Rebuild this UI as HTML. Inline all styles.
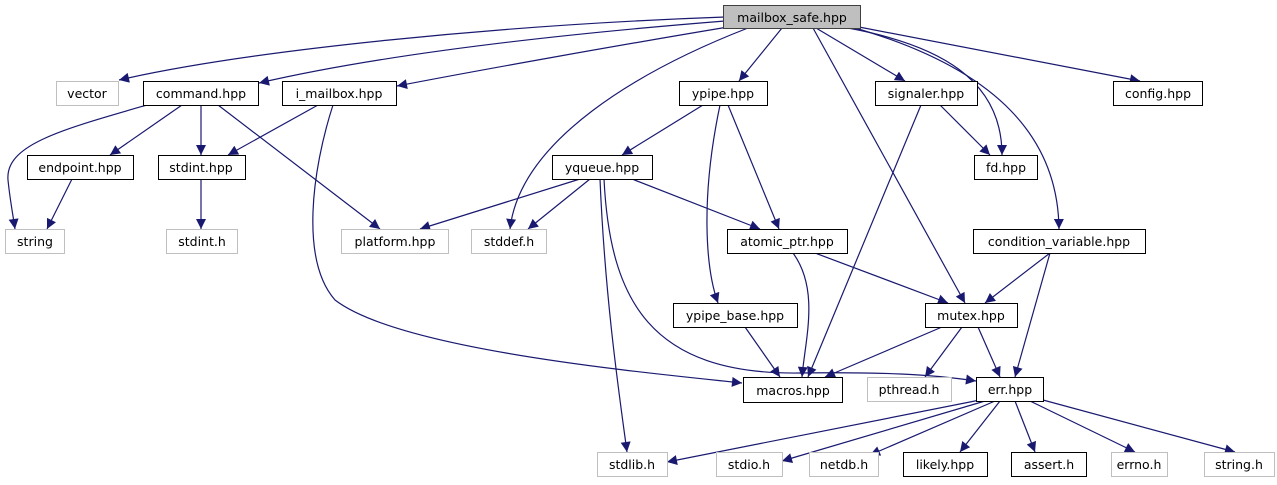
<!DOCTYPE html>
<html><head><meta charset="utf-8"><style>
html,body{margin:0;padding:0;background:#fff;}
svg{display:block;}
text{font-family:"DejaVu Sans","Liberation Sans",sans-serif;font-size:12.5px;fill:#000;}
</style></head><body>
<svg width="1277" height="485" viewBox="0 0 1277 485" xmlns="http://www.w3.org/2000/svg">
<defs>
<marker id="a" viewBox="0 0 10 10" refX="10" refY="5" markerWidth="13" markerHeight="10" markerUnits="userSpaceOnUse" orient="auto">
<path d="M0,0 L10,5 L0,10 z" fill="#191970"/>
</marker>
</defs>
<g fill="none" stroke="#191970" stroke-width="1.2" marker-end="url(#a)">
<path d="M725,17 C500,25 250,50 119,80"/>
<path d="M725,21 C550,35 380,55 259,83"/>
<path d="M728,27 C620,45 480,70 397,86"/>
<path d="M748,28 C640,70 520,140 510,229"/>
<path d="M782,28 L739,81"/>
<path d="M813,28 L965,303"/>
<path d="M816,28 L905,81"/>
<path d="M848,28 C940,45 1002,80 1002,155"/>
<path d="M855,28 C1000,70 1058,140 1059,229"/>
<path d="M859,27 L1140,81"/>
<path d="M147,105 C60,130 5,145 8,180 C10,200 13,215 15,229"/>
<path d="M182,105 L110,155"/>
<path d="M201,105 L201,155"/>
<path d="M218,105 L380,229"/>
<path d="M318,105 L228,155"/>
<path d="M333,105 C312,170 300,260 335,300 C400,350 640,372 742,383"/>
<path d="M72,179 L47,229"/>
<path d="M201,179 L201,229"/>
<path d="M703,105 L622,155"/>
<path d="M720,105 C700,200 706,270 718,303"/>
<path d="M728,105 L779,229"/>
<path d="M580,179 L420,229"/>
<path d="M590,179 L528,229"/>
<path d="M632,179 L760,229"/>
<path d="M600,179 C605,300 620,400 627,452"/>
<path d="M604,179 C610,300 650,375 800,373 C880,372 930,374 976,381"/>
<path d="M921,105 L808,377"/>
<path d="M940,105 L990,155"/>
<path d="M793,253 C820,290 805,340 802,377"/>
<path d="M815,253 L948,303"/>
<path d="M1050,253 L985,303"/>
<path d="M1050,253 L1015,377"/>
<path d="M745,327 L780,377"/>
<path d="M942,327 L825,377"/>
<path d="M962,327 L925,377"/>
<path d="M978,327 L1000,377"/>
<path d="M980,400 L667,462"/>
<path d="M985,401 L782,461"/>
<path d="M995,401 L870,455"/>
<path d="M1000,401 L960,452"/>
<path d="M1015,401 L1035,452"/>
<path d="M1030,401 L1135,452"/>
<path d="M1043,400 L1235,452"/>
</g>
<g stroke-width="1">
<rect x="723.5" y="5.5" width="137" height="23" fill="#bfbfbf" stroke="#404040"/>
<rect x="56.5" y="81.5" width="62" height="24" fill="#fff" stroke="#bfbfbf"/>
<rect x="143.5" y="81.5" width="115" height="24" fill="#fff" stroke="#000"/>
<rect x="282.5" y="81.5" width="114" height="24" fill="#fff" stroke="#000"/>
<rect x="679.5" y="81.5" width="88" height="24" fill="#fff" stroke="#000"/>
<rect x="875.5" y="81.5" width="102" height="24" fill="#fff" stroke="#000"/>
<rect x="1113.5" y="81.5" width="89" height="24" fill="#fff" stroke="#000"/>
<rect x="27.5" y="155.5" width="106" height="24" fill="#fff" stroke="#000"/>
<rect x="158.5" y="155.5" width="87" height="24" fill="#fff" stroke="#000"/>
<rect x="552.5" y="155.5" width="100" height="24" fill="#fff" stroke="#000"/>
<rect x="974.5" y="155.5" width="63" height="24" fill="#fff" stroke="#000"/>
<rect x="5.5" y="229.5" width="59" height="24" fill="#fff" stroke="#bfbfbf"/>
<rect x="166.5" y="229.5" width="71" height="24" fill="#fff" stroke="#bfbfbf"/>
<rect x="341.5" y="229.5" width="107" height="24" fill="#fff" stroke="#bfbfbf"/>
<rect x="471.5" y="229.5" width="75" height="24" fill="#fff" stroke="#bfbfbf"/>
<rect x="727.5" y="229.5" width="120" height="24" fill="#fff" stroke="#000"/>
<rect x="973.5" y="229.5" width="172" height="24" fill="#fff" stroke="#000"/>
<rect x="673.5" y="303.5" width="124" height="24" fill="#fff" stroke="#000"/>
<rect x="925.5" y="303.5" width="92" height="24" fill="#fff" stroke="#000"/>
<rect x="743.5" y="377.5" width="99" height="25" fill="#fff" stroke="#000"/>
<rect x="867.5" y="377.5" width="84" height="24" fill="#fff" stroke="#bfbfbf"/>
<rect x="976.5" y="377.5" width="67" height="24" fill="#fff" stroke="#000"/>
<rect x="597.5" y="452.5" width="70" height="24" fill="#fff" stroke="#bfbfbf"/>
<rect x="716.5" y="452.5" width="66" height="24" fill="#fff" stroke="#bfbfbf"/>
<rect x="809.5" y="452.5" width="69" height="24" fill="#fff" stroke="#bfbfbf"/>
<rect x="903.5" y="452.5" width="84" height="24" fill="#fff" stroke="#000"/>
<rect x="1011.5" y="452.5" width="75" height="24" fill="#fff" stroke="#000"/>
<rect x="1111.5" y="452.5" width="56" height="24" fill="#fff" stroke="#bfbfbf"/>
<rect x="1204.5" y="452.5" width="70" height="24" fill="#fff" stroke="#bfbfbf"/>
</g>
<g text-anchor="middle">
<text x="792" y="22">mailbox_safe.hpp</text>
<text x="87" y="98">vector</text>
<text x="201" y="98">command.hpp</text>
<text x="339" y="98">i_mailbox.hpp</text>
<text x="723" y="98">ypipe.hpp</text>
<text x="926" y="98">signaler.hpp</text>
<text x="1158" y="98">config.hpp</text>
<text x="80" y="172">endpoint.hpp</text>
<text x="201" y="172">stdint.hpp</text>
<text x="602" y="172">yqueue.hpp</text>
<text x="1006" y="172">fd.hpp</text>
<text x="35" y="246">string</text>
<text x="202" y="246">stdint.h</text>
<text x="395" y="246">platform.hpp</text>
<text x="509" y="246">stddef.h</text>
<text x="787" y="246">atomic_ptr.hpp</text>
<text x="1059" y="246">condition_variable.hpp</text>
<text x="735" y="320">ypipe_base.hpp</text>
<text x="971" y="320">mutex.hpp</text>
<text x="793" y="395">macros.hpp</text>
<text x="909" y="394">pthread.h</text>
<text x="1010" y="394">err.hpp</text>
<text x="632" y="469">stdlib.h</text>
<text x="749" y="469">stdio.h</text>
<text x="844" y="469">netdb.h</text>
<text x="945" y="469">likely.hpp</text>
<text x="1049" y="469">assert.h</text>
<text x="1139" y="469">errno.h</text>
<text x="1239" y="469">string.h</text>
</g>
</svg>
</body></html>
